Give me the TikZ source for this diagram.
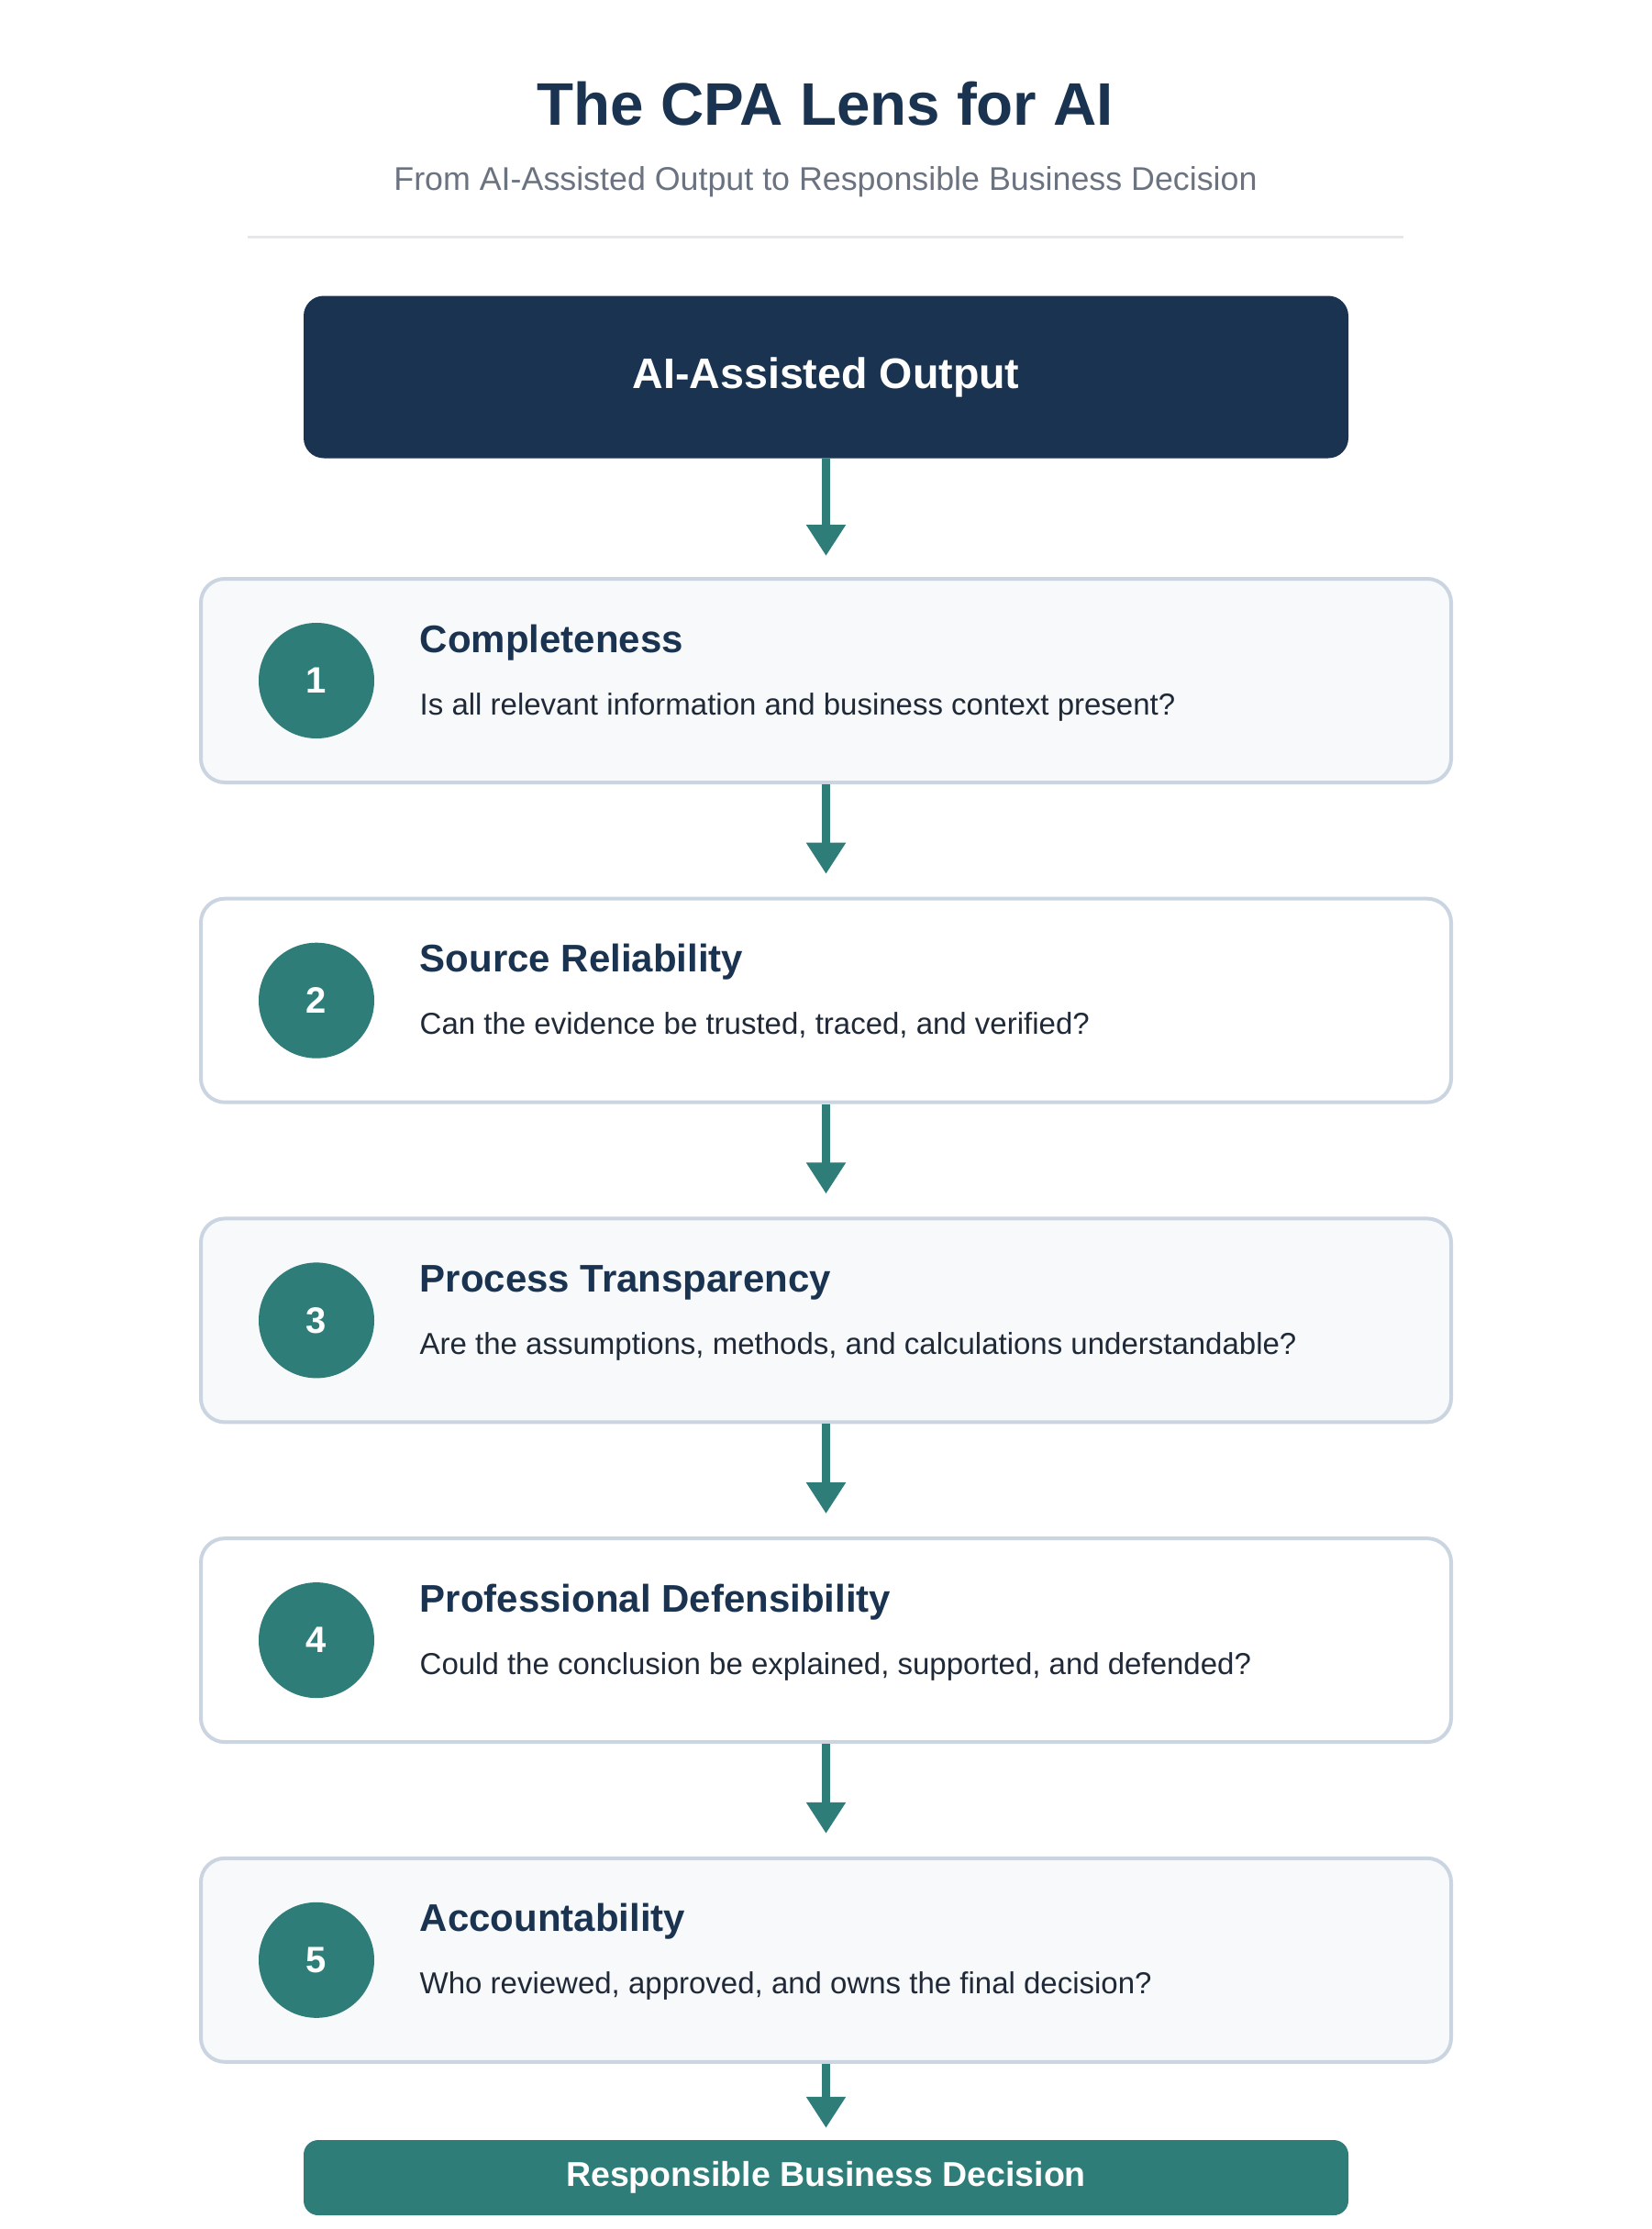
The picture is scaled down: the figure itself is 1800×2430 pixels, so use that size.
\documentclass[tikz,border=0pt]{standalone}
\usepackage{fontspec}
\setmainfont{Liberation Sans}
\usetikzlibrary{arrows.meta}
\definecolor{navyc}{HTML}{1A3350}
\definecolor{tealc}{HTML}{2E7D78}
\definecolor{bordc}{HTML}{CBD5E1}
\definecolor{lightc}{HTML}{F7F9FB}
\definecolor{subc}{HTML}{6B7280}
\definecolor{descc}{HTML}{1F2937}
\definecolor{rulec}{HTML}{E5E7EB}
\begin{document}
\begin{tikzpicture}[x=1pt,y=-1pt,
  stepbox/.style={draw=bordc, line width=4pt, rounded corners=26pt, minimum width=1363pt, minimum height=222pt, inner sep=0pt},
  numcirc/.style={circle, fill=tealc, minimum size=126pt, inner sep=0pt, text=white, font=\fontsize{40}{44}\selectfont\bfseries},
  steptitle/.style={anchor=base west, inner sep=0pt, text=navyc, font=\fontsize{42}{46}\selectfont\bfseries},
  stepdesc/.style={anchor=base west, inner sep=0pt, text=descc, font=\fontsize{33}{38}\selectfont},
  arr/.style={draw=tealc, line width=9pt, -{Triangle[length=34pt, width=41pt]}}
]
\useasboundingbox[fill=white] (0,0) rectangle (1800,2430);
\node[anchor=base, inner sep=0pt, text=navyc, font=\fontsize{65.5}{70}\selectfont\bfseries] (title) at (900,137) {The CPA Lens for AI};
\node[anchor=base, inner sep=0pt, text=subc, font=\fontsize{35.8}{40}\selectfont] (sub) at (900,207) {From AI-Assisted Output to Responsible Business Decision};
\coordinate (rl) at (270,258);
\coordinate (rr) at (1530,258);
\draw[rulec, line width=3pt] (rl) -- (rr);
\node[fill=navyc, rounded corners=22pt, minimum width=1139pt, minimum height=177pt, inner sep=0pt, text=white, font=\fontsize{46.6}{50}\selectfont\bfseries] (top) at (900.5,411) {AI-Assisted Output};
\foreach \i/\t/\d/\f in {
  1/Completeness/{Is all relevant information and business context present?}/lightc,
  2/Source Reliability/{Can the evidence be trusted, traced, and verified?}/white,
  3/Process Transparency/{Are the assumptions, methods, and calculations understandable?}/lightc,
  4/Professional Defensibility/{Could the conclusion be explained, supported, and defended?}/white,
  5/Accountability/{Who reviewed, approved, and owns the final decision?}/lightc}{
  \pgfmathsetmacro{\cy}{742+(\i-1)*348.7}
  \node[stepbox, fill=\f] (s\i) at (900.5,\cy) {};
  \node[numcirc] (c\i) at (345,\cy) {\i};
  \node[steptitle] (t\i) at (457.5,\cy-31) {\t};
  \node[stepdesc] (d\i) at (457.5,\cy+37) {\d};
}
\node[fill=tealc, rounded corners=16pt, minimum width=1139pt, minimum height=82pt, inner sep=0pt, text=white, font=\fontsize{37.5}{42}\selectfont\bfseries] (fin) at (900.5,2374) {Responsible Business Decision};
\draw[arr, shorten >=23pt] (top.south) -- (s1.north);
\draw[arr, shorten >=25pt] (s1.south) -- (s2.north);
\draw[arr, shorten >=25pt] (s2.south) -- (s3.north);
\draw[arr, shorten >=25pt] (s3.south) -- (s4.north);
\draw[arr, shorten >=25pt] (s4.south) -- (s5.north);
\draw[arr, shorten >=13pt] (s5.south) -- (fin.north);
\end{tikzpicture}
\end{document}
